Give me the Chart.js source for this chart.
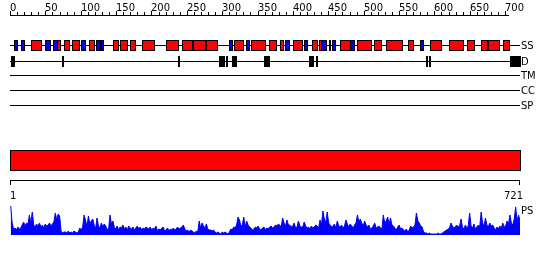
<!DOCTYPE html>
<html><head><meta charset="utf-8">
<script src="https://cdn.jsdelivr.net/npm/chart.js@4/dist/chart.umd.min.js"></script>
<style>html,body{margin:0;padding:0;background:#fff}#wrap{width:550px;height:260px}</style>
</head><body><div id="wrap"><canvas id="c" width="550" height="260"></canvas></div>
<script>
const seqLength = 721;
const rulerTicks = [0,50,100,150,200,250,300,350,400,450,500,550,600,650,700];
const trackLabels = ["SS","D","TM","CC","SP"];
// secondary structure: start, end, type (H = helix red, E = strand blue)
const ssStart = [5,15,30,50,61,67,77,87,101,111,122,129,146,156,170,186,221,243,259,277,310,317,334,341,366,382,389,400,416,427,437,440,451,455,466,481,491,515,531,562,580,594,620,646,666,676,697];
const ssEnd   = [10,20,44,56,67,71,84,97,106,119,127,132,153,165,177,203,238,257,275,293,314,330,338,361,376,386,395,413,420,434,440,447,452,460,481,487,511,525,554,570,584,609,641,656,675,691,706];
const ssType  = ["E","E","H","E","E","H","H","H","E","H","E","E","H","H","H","H","H","H","H","H","E","H","E","H","H","H","E","H","E","H","H","E","H","E","H","E","H","H","H","H","E","H","H","H","H","H","H"];
// disordered regions
const disStart = [1,74,237,295,305,314,359,423,433,588,593,707];
const disEnd   = [5,75,238,302,306,320,366,428,434,589,594,721];
// domain bar
const domainStart = [1];
const domainEnd = [721];
// PS profile values (evenly spaced along the sequence)
const psValues = [29,12,
6,7,5,8,6,7,
10,13,9,12,11,
20,12,23,
10,8,11,9,12,8,10,7,11,9,10,12,9,11,13,
22,15,21,19,
4,2,3,3,2,4,2,3,2,4,3,2,3,
7,5,8,
20,
15,8,19,11,14,16,
10,6,17,9,7,12,8,11,9,6,5,
20,11,14,
8,6,9,5,8,7,10,6,8,5,9,7,6,8,5,7,9,6,8,5,7,6,8,7,6,
8,5,7,6,9,4,6,5,7,8,4,5,7,4,6,5,7,5,6,8,6,7,8,
10,
6,4,5,3,5,4,3,2,4,3,
14,7,12,9,7,11,6,5,
5,4,5,3,2,3,2,1,3,2,3,2,1,3,
6,5,8,7,10,18,
15,9,10,18,8,14,10,8,
7,5,6,8,7,9,6,5,7,8,5,7,6,8,9,7,8,10,9,11,
10,8,17,12,9,15,10,
10,8,9,12,7,8,14,9,8,
8,13,9,7,8,6,9,7,8,10,9,7,
15,10,24,16,12,23,12,
10,8,9,11,7,14,9,
8,10,7,9,15,11,8,11,9,7,10,12,
20,13,16,12,9,14,10,
8,10,6,7,9,12,7,8,9,7,6,
20,12,14,18,11,17,10,
9,7,5,8,10,6,7,
5,4,6,3,5,9,7,8,10,
22,14,12,9,8,
3,2,2,1,2,1,1,1,1,1,2,1,1,2,
3,4,5,6,7,12,
9,7,8,10,8,9,16,
8,6,10,7,9,22,
9,7,11,6,8,10,8,23,
12,9,17,10,8,12,9,10,
7,5,8,6,9,7,
12,8,9,14,11,20,
12,10,16,28,14,20,14];

const psStep = (seqLength - 1) / (psValues.length - 1);
const psData = psValues.map((v, i) => ({x: 1 + i * psStep, y: v}));

const FONT = '10px "DejaVu Sans"';

const tracksPlugin = {
  id: 'tracks',
  afterDatasetsDraw(chart) {
    const ctx = chart.ctx;
    const xs = chart.scales.x, ys = chart.scales.y;
    const X = v => Math.round(xs.getPixelForValue(v));
    const Y = v => Math.round(ys.getPixelForValue(v));
    const x0 = X(0), x1 = X(seqLength);
    ctx.save();
    ctx.lineWidth = 1;
    ctx.strokeStyle = '#000';
    // top ruler
    const rb = Y(15);
    ctx.beginPath();
    ctx.moveTo(x0, rb + 0.5); ctx.lineTo(X(705), rb + 0.5);
    for (let r = 0; r <= 700; r += 10) {
      const px = X(r) + 0.5;
      const len = (r % 50 === 0) ? 4 : 3;
      ctx.moveTo(px, rb); ctx.lineTo(px, rb - len);
    }
    ctx.stroke();
    ctx.fillStyle = '#000';
    ctx.font = FONT;
    ctx.textBaseline = 'alphabetic';
    ctx.textAlign = 'left';
    rulerTicks.forEach(t => ctx.fillText(String(t), X(t), Y(11)));

    // track lines
    const rowY = [45, 61, 75, 90, 105];
    rowY.forEach((ry, i) => {
      const py = Y(ry);
      ctx.beginPath();
      ctx.moveTo(x0, py + 0.5); ctx.lineTo(x1, py + 0.5);
      ctx.stroke();
      ctx.textBaseline = 'middle';
      ctx.fillText(trackLabels[i], x1 + 1, py + 1);
    });

    // SS boxes
    const sTop = Y(40), sBot = Y(50);
    for (let i = 0; i < ssStart.length; i++) {
      const a = X(ssStart[i]), b = Math.max(X(ssEnd[i]), a + 1);
      ctx.fillStyle = ssType[i] === 'H' ? '#ff0000' : '#0000ff';
      ctx.fillRect(a, sTop, b - a, sBot - sTop);
      ctx.strokeRect(a + 0.5, sTop + 0.5, b - a, sBot - sTop);
    }
    // disorder
    const dTop = Y(56), dBot = Y(66);
    ctx.fillStyle = '#000';
    for (let i = 0; i < disStart.length; i++) {
      const a = X(disStart[i]), b = Math.max(X(disEnd[i]), a + 1);
      ctx.fillRect(a, dTop, b - a + 1, dBot - dTop + 1);
    }
    // domain bar
    for (let i = 0; i < domainStart.length; i++) {
      const a = X(domainStart[i] - 1), b = X(domainEnd[i]);
      ctx.fillStyle = '#ff0000';
      ctx.fillRect(a, Y(150), b - a, Y(170) - Y(150));
      ctx.strokeRect(a + 0.5, Y(150) + 0.5, b - a, Y(170) - Y(150));
    }
    // bottom ruler
    const bb = Y(180);
    ctx.beginPath();
    ctx.moveTo(x0, bb + 0.5); ctx.lineTo(x1, bb + 0.5);
    ctx.moveTo(x0 + 0.5, bb); ctx.lineTo(x0 + 0.5, bb + 5);
    ctx.moveTo(x1 - 0.5, bb); ctx.lineTo(x1 - 0.5, bb + 5);
    ctx.stroke();
    ctx.fillStyle = '#000';
    ctx.textBaseline = 'alphabetic';
    ctx.textAlign = 'left';
    ctx.fillText('1', x0, Y(199));
    ctx.textAlign = 'right';
    ctx.fillText(String(seqLength), x1 + 3, Y(199));
    ctx.textAlign = 'left';
    ctx.textBaseline = 'middle';
    ctx.fillText('PS', x1 + 1, Y(211));
    ctx.restore();
  }
};

new Chart(document.getElementById('c'), {
  type: 'line',
  data: {
    datasets: [{
      label: 'PS',
      data: psData,
      xAxisID: 'x',
      yAxisID: 'ps',
      borderColor: '#0000ff',
      backgroundColor: '#0000ff',
      borderWidth: 1,
      pointRadius: 0,
      tension: 0,
      fill: 'origin'
    }]
  },
  options: {
    responsive: false,
    animation: false,
    devicePixelRatio: 1,
    layout: {padding: {left: 10, right: 30, top: 0, bottom: 0}},
    plugins: {legend: {display: false}, tooltip: {enabled: false}},
    scales: {
      x: {type: 'linear', min: 0, max: seqLength, display: false},
      y: {type: 'linear', min: 0, max: 260, reverse: true, display: false},
      ps: {type: 'linear', min: -25, max: 235, display: false}
    }
  },
  plugins: [tracksPlugin]
});
</script>
</body></html>
